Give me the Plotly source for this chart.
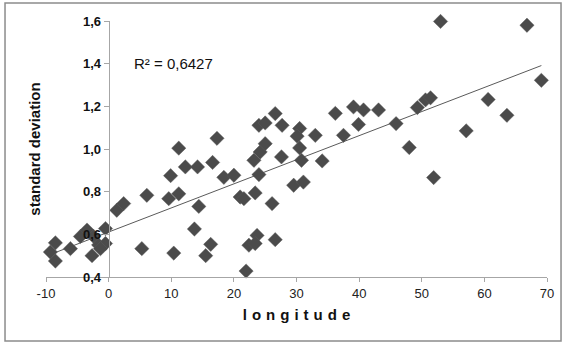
import numpy as np
import plotly.graph_objects as go

# --- data ---
longitude = [-9.3, -8.5, -8.5, -6.1, -4.5, -3.45, -2.4, -2.65, -1.6, -0.5,
             -0.5, -1.3, 1.3, 2.4, 5.3, 6.1, 9.6, 9.9, 11.2, 10.4,
             11.2, 12.25, 14.2, 14.4, 13.7, 15.5, 16.3, 16.6, 17.3, 18.4,
             20.0, 21.0, 21.6, 23.4, 26.1, 24.0, 23.2, 24.2, 25.0, 24.0,
             25.0, 26.6, 27.7, 27.6, 29.55, 31.1, 30.5, 30.1, 30.5, 30.8,
             33.0, 34.1, 36.2, 39.1, 40.7, 39.9, 37.5, 43.1, 22.4, 23.7,
             23.4, 26.6, 21.95, 53.0, 66.8, 69.1, 45.9, 49.3, 50.6, 51.4,
             60.6, 63.6, 57.1, 48.0, 51.9]
std_dev = [0.517, 0.56, 0.475, 0.533, 0.59, 0.62, 0.59, 0.50, 0.55, 0.627,
           0.557, 0.533, 0.713, 0.744, 0.533, 0.783, 0.767, 0.875, 0.79, 0.512,
           1.004, 0.916, 0.916, 0.731, 0.625, 0.50, 0.553, 0.937, 1.05, 0.867,
           0.877, 0.775, 0.767, 0.794, 0.744, 0.880, 0.947, 0.986, 1.025, 1.111,
           1.122, 1.166, 1.111, 0.963, 0.83, 0.845, 1.096, 1.06, 1.005, 0.947,
           1.064, 0.944, 1.167, 1.197, 1.183, 1.115, 1.064, 1.183, 0.549, 0.595,
           0.557, 0.575, 0.428, 1.598, 1.58, 1.322, 1.119, 1.194, 1.23, 1.24,
           1.232, 1.158, 1.085, 1.007, 0.866]

x_tick_vals = [-10, 0, 10, 20, 30, 40, 50, 60, 70]
x_tick_text = ["-10", "0", "10", "20", "30", "40", "50", "60", "70"]
y_tick_vals = [0.4, 0.6, 0.8, 1.0, 1.2, 1.4, 1.6]
r_squared_label = "R² = 0,6427"

# linear trend line (least squares) from the data
xa = np.array(longitude)
ya = np.array(std_dev)
slope, intercept = np.polyfit(xa, ya, 1)
trend_x = [xa.min(), xa.max()]
trend_y = [slope * v + intercept for v in trend_x]

fig = go.Figure()
fig.add_trace(go.Scatter(
    x=trend_x, y=trend_y, mode="lines",
    line=dict(color="#5a5a5a", width=1), hoverinfo="skip", showlegend=False))
fig.add_trace(go.Scatter(
    x=longitude, y=std_dev, mode="markers", cliponaxis=False,
    marker=dict(symbol="diamond", size=11, color="#4b4b4b",
                line=dict(width=1, color="rgba(90,90,90,0.45)")),
    showlegend=False))

axis_font = dict(family="Liberation Sans, Arial, sans-serif", size=13, color="#222222")

fig.update_layout(
    width=566, height=344,
    margin=dict(l=46, r=19, t=21, b=67, autoexpand=False),
    paper_bgcolor="white", plot_bgcolor="white",
    separators=",.",
    showlegend=False,
    xaxis=dict(
        range=[-10, 70], tickvals=x_tick_vals, ticktext=x_tick_text,
        showgrid=False, zeroline=False,
        showline=True, linecolor="#a6a6a6", linewidth=1,
        ticks="outside", ticklen=4, tickcolor="#a6a6a6",
        tickfont=axis_font,
        title=dict(text="l\u2004o\u2004n\u2004g\u2004i\u2004t\u2004u\u2004d\u2004e",
                   font=dict(family="Liberation Sans, Arial, sans-serif", size=15,
                             color="#111111", weight="bold"),
                   standoff=9),
    ),
    yaxis=dict(
        range=[0.4, 1.6], tickvals=y_tick_vals, tickformat=".1f",
        anchor="free", position=0.125,
        showgrid=False, zeroline=False,
        showline=True, linecolor="#a6a6a6", linewidth=1,
        ticks="outside", ticklen=5, tickcolor="#a6a6a6",
        tickfont=dict(family="Liberation Sans, Arial, sans-serif", size=13,
                      color="#111111", weight="bold"),
        title=dict(text="standard deviation",
                   font=dict(family="Liberation Sans, Arial, sans-serif", size=15,
                             color="#111111", weight="bold"),
                   standoff=37),
    ),
    annotations=[dict(
        text=r_squared_label, xref="paper", yref="paper",
        x=0.1717, y=0.8336, xanchor="left", yanchor="middle", showarrow=False,
        font=dict(family="Liberation Sans, Arial, sans-serif", size=15, color="#111111"))],
    shapes=[dict(
        type="rect", xref="paper", yref="paper",
        x0=-0.0818, x1=1.028, y0=-0.25, y1=1.0703,
        line=dict(color="#8c8c8c", width=1.5), layer="below")],
)

fig.write_html("out.html", config={"displayModeBar": False},
               post_script="document.body.style.margin='0';document.body.style.overflow='hidden';")
